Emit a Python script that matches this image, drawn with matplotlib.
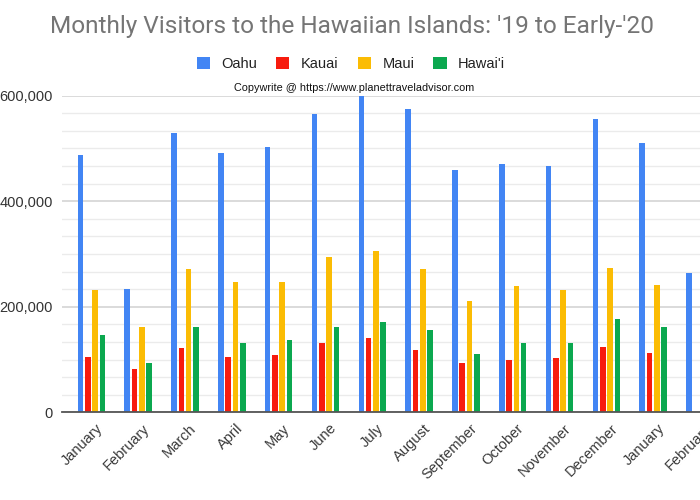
import numpy as np
import matplotlib
matplotlib.use('Agg')
import matplotlib.pyplot as plt
import matplotlib.transforms as mtransforms
from matplotlib.patches import Patch
from matplotlib.ticker import MultipleLocator, FuncFormatter

# Data (visitors per month)
months = ['January', 'February', 'March', 'April', 'May', 'June', 'July',
          'August', 'September', 'October', 'November', 'December',
          'January', 'February']
oahu = [488000, 234000, 530000, 491000, 502000, 565000, 600000,
        574000, 460000, 470000, 467000, 556000, 510000, 264000]
kauai = [105000, 82000, 121000, 105000, 108000, 132000, 140000,
         119000, 94000, 100000, 103000, 123000, 112000, np.nan]
maui = [232000, 162000, 271000, 246000, 246000, 295000, 306000,
        271000, 210000, 239000, 232000, 274000, 241000, np.nan]
hawaii = [146000, 93000, 162000, 131000, 137000, 162000, 172000,
          156000, 110000, 131000, 131000, 177000, 161000, np.nan]

series = [('Oahu', oahu, '#4285F4'),
          ('Kauai', kauai, '#F71B0E'),
          ('Maui', maui, '#FBBC04'),
          ('Hawai\'i', hawaii, '#0BA84F')]

plt.rcParams['font.family'] = ['Liberation Sans', 'DejaVu Sans']

fig = plt.figure(figsize=(7, 5), dpi=100)
ax = fig.add_axes([62 / 700, 87.7 / 500, 638 / 700, 316.6 / 500])

x = np.arange(len(months))
step = 0.156
width = 0.12
for i, (name, vals, color) in enumerate(series):
    ax.bar(x + (i - 1.5) * step, vals, width=width, color=color, label=name, zorder=3)

ax.set_xlim(-0.627, 12.847)
ax.set_ylim(0, 600000)

ax.yaxis.set_major_locator(MultipleLocator(200000))
ax.yaxis.set_minor_locator(MultipleLocator(200000 / 6))
ax.yaxis.set_major_formatter(FuncFormatter(lambda v, p: f'{int(v):,}'))
ax.grid(axis='y', which='major', color='#d4d4d4', linewidth=1.2, zorder=0)
ax.grid(axis='y', which='minor', color='#ebebeb', linewidth=1.0, zorder=0)
ax.tick_params(axis='y', which='both', length=0, pad=6.5, labelsize=10.5, labelcolor='#333333')

ax.set_xticks(x)
ax.set_xticklabels(months, rotation=45, ha='right', va='center', rotation_mode='anchor',
                   fontsize=10.5, color='#3a3a3a')
ax.tick_params(axis='x', length=0, pad=10)
# google-style: label ends a bit right of the group centre
shift = mtransforms.ScaledTranslation(0.09, 0, fig.dpi_scale_trans)
for lbl in ax.get_xticklabels():
    lbl.set_transform(lbl.get_transform() + shift)

for s in ['top', 'right', 'left']:
    ax.spines[s].set_visible(False)
ax.spines['bottom'].set_color('#555555')
ax.spines['bottom'].set_linewidth(1.3)
ax.spines['bottom'].set_zorder(4)

fig.text(352 / 700, 1 - 26 / 500, "Monthly Visitors to the Hawaiian Islands: '19 to Early-'20",
         ha='center', va='center', fontsize=17.6, color='#757575', family='Roboto')

handles = [Patch(facecolor=c, edgecolor='none') for _, _, c in series]
fig.legend(handles, [n for n, _, _ in series], loc='center', bbox_to_anchor=(351 / 700, 1 - 64 / 500),
           ncol=4, frameon=False, fontsize=10.5, handlelength=0.9, handleheight=0.9,
           handletextpad=0.8, columnspacing=1.3, labelcolor='#222222')

fig.text(354 / 700, 1 - 88 / 500, 'Copywrite @ https://www.planettraveladvisor.com',
         ha='center', va='center', fontsize=7.8, color='#111111')

fig.savefig('out.png', dpi=100)
